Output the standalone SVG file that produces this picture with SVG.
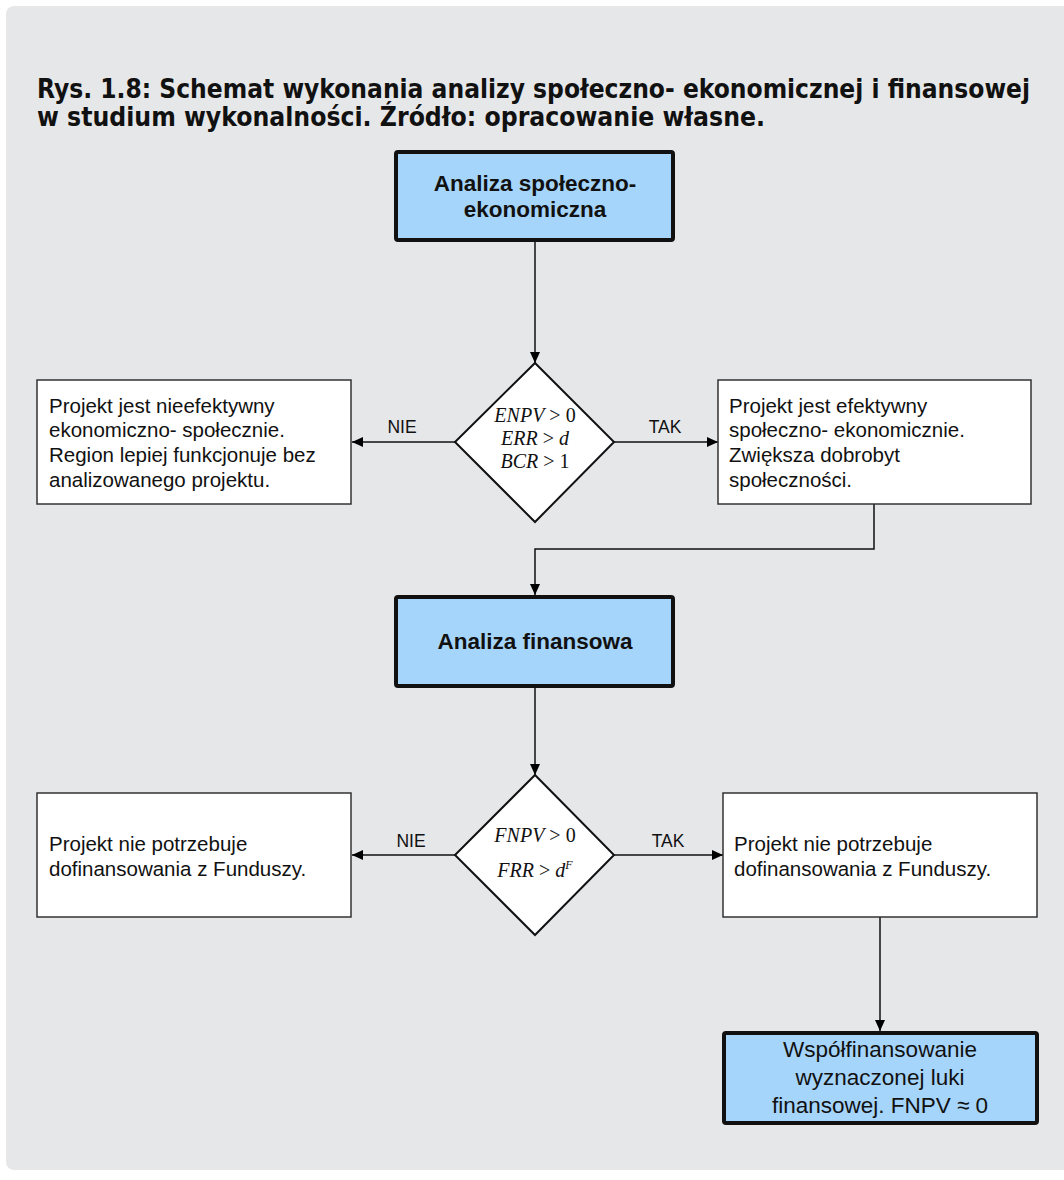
<svg xmlns="http://www.w3.org/2000/svg" width="1064" height="1180" viewBox="0 0 1064 1180">
  <defs>
    <marker id="arr" markerUnits="userSpaceOnUse" markerWidth="12" markerHeight="10" refX="11" refY="5" orient="auto">
      <path d="M0,0 L11,5 L0,10 Z" fill="#000"/>
    </marker>
  </defs>
  <style>
    .title { font-family: "DejaVu Sans Condensed", "Liberation Sans Narrow", "Liberation Sans", sans-serif; font-weight: bold; font-size: 26px; fill: #111; }
    .key { fill: #a6d5fb; stroke: #111; stroke-width: 4; }
    .box { fill: #fff; stroke: #333; stroke-width: 1.5; }
    .dia { fill: #fff; stroke: #111; stroke-width: 2; }
    .bt { font-family: "Liberation Sans", Arial, sans-serif; font-weight: bold; font-size: 22.5px; fill: #111; text-anchor: middle; }
    .t { font-family: "Liberation Sans", Arial, sans-serif; font-size: 20.5px; fill: #111; }
    .ft { font-family: "Liberation Sans", Arial, sans-serif; font-size: 22.5px; fill: #111; text-anchor: middle; }
    .lbl { font-family: "Liberation Sans", Arial, sans-serif; font-size: 17.5px; fill: #111; text-anchor: middle; }
    .m { font-family: "Liberation Serif", "Times New Roman", serif; font-style: italic; font-size: 20px; fill: #111; text-anchor: middle; }
    .up { font-style: normal; }
    .conn { fill: none; stroke: #111; stroke-width: 1.5; }
  </style>
  <rect x="0" y="0" width="1064" height="1180" fill="#ffffff"/>
  <rect x="6" y="6" width="1070" height="1164" rx="8" ry="8" fill="#e6e7e9"/>
  <text class="title" x="37" y="98" textLength="993" lengthAdjust="spacingAndGlyphs">Rys. 1.8: Schemat wykonania analizy społeczno- ekonomicznej i finansowej</text>
  <text class="title" x="37" y="126" textLength="728" lengthAdjust="spacingAndGlyphs">w studium wykonalności. Źródło: opracowanie własne.</text>

  <g id="connectors">
    <path class="conn" d="M535,242 L535,363" marker-end="url(#arr)"/>
    <path class="conn" d="M455,442 L352,442" marker-end="url(#arr)"/>
    <path class="conn" d="M614,442 L718,442" marker-end="url(#arr)"/>
    <path class="conn" d="M874,504 L874,549 L535,549 L535,595" marker-end="url(#arr)"/>
    <path class="conn" d="M535,688 L535,775" marker-end="url(#arr)"/>
    <path class="conn" d="M455,855 L352,855" marker-end="url(#arr)"/>
    <path class="conn" d="M614,855 L723,855" marker-end="url(#arr)"/>
    <path class="conn" d="M880,917 L880,1031" marker-end="url(#arr)"/>
    <text class="lbl" x="402" y="433">NIE</text>
    <text class="lbl" x="665" y="433">TAK</text>
    <text class="lbl" x="411" y="847">NIE</text>
    <text class="lbl" x="668" y="847">TAK</text>
  </g>

  <g id="n-analiza-spol">
    <rect class="key" x="396" y="152" width="277" height="88" rx="2"/>
    <text class="bt" x="535" y="191">Analiza społeczno-</text>
    <text class="bt" x="535" y="217">ekonomiczna</text>
  </g>

  <g id="d-ekon">
    <polygon class="dia" points="535,363 614,442 535,522 455,442"/>
    <text class="m" x="535" y="422">ENPV<tspan class="up"> &gt; 0</tspan></text>
    <text class="m" x="535" y="445">ERR<tspan class="up"> &gt; </tspan>d</text>
    <text class="m" x="535" y="468">BCR<tspan class="up"> &gt; 1</tspan></text>
  </g>

  <g id="n-nieefektywny">
    <rect class="box" x="37" y="380" width="314" height="124"/>
    <text class="t" x="49" y="413">Projekt jest nieefektywny</text>
    <text class="t" x="49" y="437">ekonomiczno- społecznie.</text>
    <text class="t" x="49" y="462">Region lepiej funkcjonuje bez</text>
    <text class="t" x="49" y="487">analizowanego projektu.</text>
  </g>

  <g id="n-efektywny">
    <rect class="box" x="718" y="380" width="313" height="124"/>
    <text class="t" x="729" y="413">Projekt jest efektywny</text>
    <text class="t" x="729" y="437">społeczno- ekonomicznie.</text>
    <text class="t" x="729" y="462">Zwiększa dobrobyt</text>
    <text class="t" x="729" y="487">społeczności.</text>
  </g>

  <g id="n-analiza-fin">
    <rect class="key" x="396" y="597" width="277" height="89" rx="2"/>
    <text class="bt" x="535" y="649">Analiza finansowa</text>
  </g>

  <g id="d-fin">
    <polygon class="dia" points="535,775 614,855 535,935 455,855"/>
    <text class="m" x="535" y="842">FNPV<tspan class="up"> &gt; 0</tspan></text>
    <text class="m" x="535" y="877">FRR<tspan class="up"> &gt; </tspan>d<tspan font-size="12" dy="-8">F</tspan></text>
  </g>

  <g id="n-nie-potrzebuje-l">
    <rect class="box" x="37" y="793" width="314" height="124"/>
    <text class="t" x="49" y="851">Projekt nie potrzebuje</text>
    <text class="t" x="49" y="876">dofinansowania z Funduszy.</text>
  </g>

  <g id="n-nie-potrzebuje-r">
    <rect class="box" x="723" y="793" width="314" height="124"/>
    <text class="t" x="734" y="851">Projekt nie potrzebuje</text>
    <text class="t" x="734" y="876">dofinansowania z Funduszy.</text>
  </g>

  <g id="n-wspolfinansowanie">
    <rect class="key" x="724" y="1033" width="313" height="90" rx="2"/>
    <text class="ft" x="880" y="1057">Współfinansowanie</text>
    <text class="ft" x="880" y="1085">wyznaczonej luki</text>
    <text class="ft" x="880" y="1113">finansowej. FNPV ≈ 0</text>
  </g>
</svg>
